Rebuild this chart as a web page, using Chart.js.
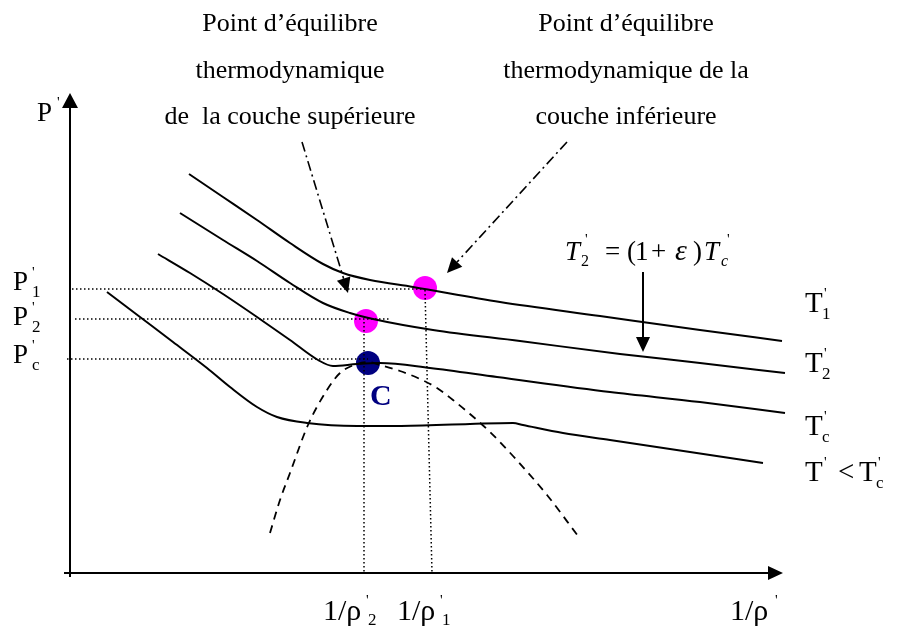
<!DOCTYPE html>
<html>
<head>
<meta charset="utf-8">
<script src="https://cdn.jsdelivr.net/npm/chart.js@4.4.0/dist/chart.umd.min.js"></script>
<style>
    html, body { margin: 0; padding: 0; background: #fff; }
    #wrap { width: 898px; height: 630px; }
</style>
</head>
<body>
<div id="wrap"><canvas id="chart" width="898" height="630"></canvas></div>
<script>
// schematic: x = 1/rho', y = P' (picture units, y grows downwards)
const isoT1 = [[189,174],[223,197],[257,220],[290,243],[323,264],[343,273],[370,280],[413,287],[500,302],[600,316],[700,330],[782,341]]
const isoT2 = [[180,213],[223,240],[257,261],[290,283],[323,303],[350,313],[373,319],[433,330],[520,341],[620,354],[700,363],[785,373]]
const isoTc = [[158,254],[190,273],[223,294],[257,317],[290,340],[318,360],[333,366],[357,364],[380,363],[430,368],[497,377],[610,392],[700,402],[785,413]]
const isoTlow = [[107,292],[140,317],[173,342],[207,368],[230,387],[257,407],[277,417],[307,423],[357,426],[397,426],[470,424],[513,423],[523,425],[563,433],[610,440],[690,452],[763,463]]
const binodal = [[270,533],[280,500],[290,473],[308,425],[327,390],[340,373],[357,364],[368,362],[380,365],[400,371],[420,379],[437,388],[453,400],[470,414],[490,432],[513,456],[547,495],[578,536]]

const guideP1 = [[72,289],[425,289]]
const guideP2 = [[75,319],[390,319]]
const guidePc = [[67,359],[368,359]]
const guideRho2 = [[364,322],[364,573]]
const guideRho1 = [[425,290],[432,573]]

const eqPoints = [[425,288],[366,321],[368,363]]
const eqColors = ['#ff00ff', '#ff00ff', '#000080']

const axisY = [[70,577],[70,93]]
const axisX = [[64,573],[783,573]]
const calloutUpper = [[302,142],[348,293]]
const calloutLower = [[567,142],[447,273]]
const arrowT2 = [[643,272],[643,352]]

const titleUpper = ['Point d’équilibre', 'thermodynamique', 'de  la couche supérieure']
const titleLower = ['Point d’équilibre', 'thermodynamique de la', 'couche inférieure']
const titleBaselines = [31, 78, 124]

const FONT = '"Liberation Serif", "Times New Roman", serif'
const xy = pts => pts.map(([x, y]) => ({ x, y }))

const curve = (data, dash) => ({
    data: xy(data),
    showLine: true,
    borderColor: '#000',
    borderWidth: dash ? 1.8 : 2,
    borderDash: dash || [],
    pointRadius: 0,
    cubicInterpolationMode: 'monotone',
    clip: false
})
const guide = data => ({
    data: xy(data),
    showLine: true,
    borderColor: '#000',
    borderWidth: 1.5,
    borderDash: [1.5, 2.5],
    pointRadius: 0,
    clip: false
})

function rich(ctx, x, y, parts, color) {
    ctx.fillStyle = color || '#000'
    ctx.textAlign = 'left'
    ctx.textBaseline = 'alphabetic'
    for (const p of parts) {
        ctx.font = `${p.italic ? 'italic ' : ''}${p.bold ? 'bold ' : ''}${p.size}px ${FONT}`
        ctx.fillText(p.t, x + (p.dx || 0), y + (p.dy || 0))
    }
}

const arrowPlugin = {
    id: 'arrows',
    afterDatasetsDraw(chart) {
        const { ctx, scales: { x, y } } = chart
        const arrow = (pts, dash, head, half) => {
            const [x0, y0] = [x.getPixelForValue(pts[0][0]), y.getPixelForValue(pts[0][1])]
            const [x1, y1] = [x.getPixelForValue(pts[1][0]), y.getPixelForValue(pts[1][1])]
            const len = Math.hypot(x1 - x0, y1 - y0)
            const ux = (x1 - x0) / len, uy = (y1 - y0) / len
            const bx = x1 - ux * head, by = y1 - uy * head
            ctx.save()
            ctx.strokeStyle = '#000'
            ctx.fillStyle = '#000'
            ctx.lineWidth = dash ? 1.6 : 2
            ctx.setLineDash(dash || [])
            ctx.beginPath()
            ctx.moveTo(x0, y0)
            ctx.lineTo(bx, by)
            ctx.stroke()
            ctx.setLineDash([])
            ctx.beginPath()
            ctx.moveTo(x1, y1)
            ctx.lineTo(bx - uy * half, by + ux * half)
            ctx.lineTo(bx + uy * half, by - ux * half)
            ctx.closePath()
            ctx.fill()
            ctx.restore()
        }
        arrow(axisY, null, 15, 8)
        arrow(axisX, null, 15, 7)
        arrow(calloutUpper, [10, 4, 2, 4], 15, 7)
        arrow(calloutLower, [10, 4, 2, 4], 15, 7)
        arrow(arrowT2, null, 15, 7)
    },
    afterDraw(chart) {
        const { ctx, scales: { x, y } } = chart
        const at = (px, py, parts, color) => rich(ctx, x.getPixelForValue(px), y.getPixelForValue(py), parts, color)

        ctx.save()
        ctx.fillStyle = '#000'
        ctx.textAlign = 'center'
        ctx.font = `26px ${FONT}`
        titleUpper.forEach((t, i) => ctx.fillText(t, x.getPixelForValue(290), y.getPixelForValue(titleBaselines[i])))
        titleLower.forEach((t, i) => ctx.fillText(t, x.getPixelForValue(626), y.getPixelForValue(titleBaselines[i])))
        ctx.restore()

        const prime = (dx, dy) => ({ t: "'", size: 15, dx, dy })
        // pressure labels
        at(37, 121, [{ t: 'P', size: 27 }, prime(20, -14)])
        const pLab = sub => [{ t: 'P', size: 27 }, prime(19, -13), { t: sub, size: 17, dx: 19, dy: 7 }]
        at(13, 290, pLab('1'))
        at(13, 325, pLab('2'))
        at(13, 363, pLab('c'))

        // isotherm labels
        const tLab = sub => [{ t: 'T', size: 29 }, prime(19, -14), { t: sub, size: 17, dx: 17, dy: 7 }]
        at(805, 312, tLab('1'))
        at(805, 372, tLab('2'))
        at(805, 435, tLab('c'))
        at(805, 481, [{ t: 'T', size: 29 }, prime(19, -14), { t: '<', size: 29, dx: 33 }, { t: 'T', size: 29, dx: 54 }, prime(73, -14), { t: 'c', size: 17, dx: 71, dy: 7 }])

        // T'2 = (1+ε)T'c
        at(565, 260, [
            { t: 'T', size: 27, italic: true }, prime(20, -16), { t: '2', size: 16, dx: 16, dy: 6 },
            { t: '=', size: 27, dx: 40 }, { t: '(', size: 27, dx: 62 }, { t: '1', size: 27, dx: 70 },
            { t: '+', size: 27, dx: 86 }, { t: 'ε', size: 30, italic: true, dx: 110 }, { t: ')', size: 27, dx: 128 },
            { t: 'T', size: 27, italic: true, dx: 139 }, prime(162, -16), { t: 'c', size: 16, italic: true, dx: 156, dy: 6 }
        ])

        at(370, 405, [{ t: 'C', size: 30, bold: true }], '#000080')

        // 1/rho axis labels
        const rhoLab = sub => [{ t: '1/ρ', size: 30 }, prime(43, -15), { t: sub, size: 17, dx: 45, dy: 5 }]
        at(323, 620, rhoLab('2'))
        at(397, 620, rhoLab('1'))
        at(730, 620, [{ t: '1/ρ', size: 30 }, prime(45, -15)])
    }
}

new Chart(document.getElementById('chart'), {
    type: 'scatter',
    data: {
        datasets: [
            guide(guideP1), guide(guideP2), guide(guidePc), guide(guideRho2), guide(guideRho1),
            curve(isoT1), curve(isoT2), curve(isoTc), curve(isoTlow),
            curve(binodal, [8, 6]),
            {
                data: xy(eqPoints),
                pointRadius: 12,
                pointBorderWidth: 0,
                pointBackgroundColor: eqColors,
                pointBorderColor: eqColors,
                clip: false
            }
        ]
    },
    options: {
        responsive: false,
        animation: false,
        events: [],
        layout: { padding: 0, autoPadding: false },
        scales: {
            x: { type: 'linear', min: 0, max: 898, display: false },
            y: { type: 'linear', min: 0, max: 630, reverse: true, display: false }
        },
        plugins: { legend: { display: false }, tooltip: { enabled: false } }
    },
    plugins: [arrowPlugin]
})
</script>
</body>
</html>
